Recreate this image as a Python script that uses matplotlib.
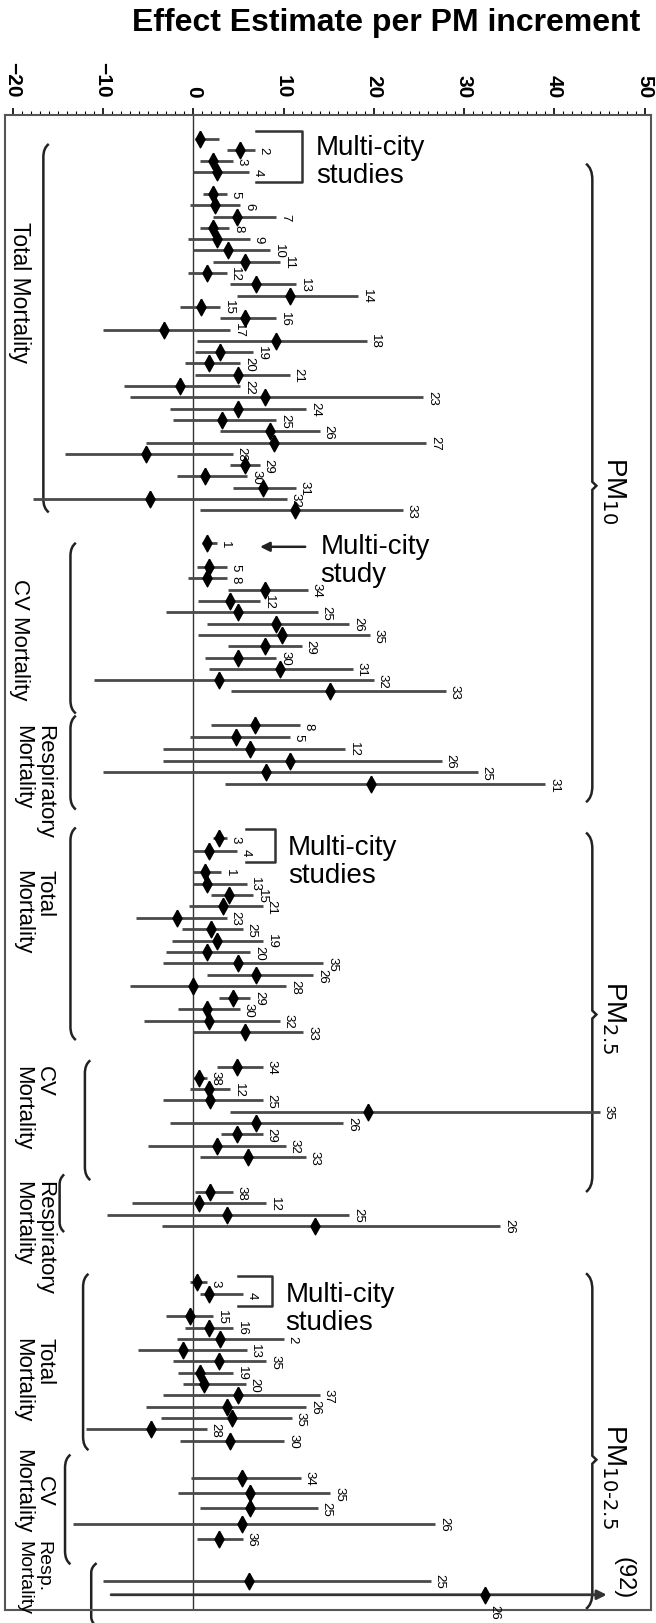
import numpy as np
import matplotlib
matplotlib.use("Agg")
import matplotlib.pyplot as plt
from matplotlib.path import Path
from matplotlib.patches import PathPatch
from matplotlib.ticker import MultipleLocator

plt.rcParams['font.family'] = ['Liberation Sans', 'DejaVu Sans']

# each row: (study label, estimate, lower CI, upper CI)
pm10_mc = [("", 0.7, 0.2, 2.8), ("2", 5.2, 3.7, 6.8), ("3", 2.2, 0.7, 4.4), ("4", 2.6, 0.0, 6.2)]
pm10_total = [
    ("5", 2.2, 1.1, 3.7), ("6", 2.4, -0.4, 5.2), ("7", 4.9, 2.2, 9.2), ("8", 2.2, 0.7, 4.0),
    ("9", 2.6, -0.6, 6.3), ("10", 3.9, 0.0, 8.5), ("11", 5.7, 2.2, 9.6), ("12", 1.5, -0.6, 3.7),
    ("13", 6.9, 4.1, 11.4), ("14", 10.7, 4.8, 18.3), ("15", 0.9, -1.5, 3.0), ("16", 5.7, 3.0, 9.2),
    ("17", -3.2, -10.0, 4.1), ("18", 9.2, 0.4, 19.2), ("19", 3.0, 0.2, 6.6), ("20", 1.7, -0.9, 5.2),
    ("21", 5.0, 0.2, 10.7), ("22", -1.5, -7.7, 5.2), ("23", 7.9, -7.0, 25.5), ("24", 5.0, -2.6, 12.5),
    ("25", 3.2, -2.2, 9.2), ("26", 8.5, 3.0, 14.0), ("27", 8.9, -5.2, 25.8), ("28", -5.2, -14.2, 4.4),
    ("29", 5.7, 4.1, 7.4), ("30", 1.3, -1.8, 6.0), ("31", 7.7, 4.4, 11.4), ("32", -4.8, -17.7, 10.4),
    ("33", 11.3, 0.7, 23.2)]
pm10_cv_mc = [("1", 1.5, 1.0, 2.6)]
pm10_cv = [
    ("5", 1.8, 0.4, 3.7), ("8", 1.5, -0.6, 3.7), ("34", 7.9, 3.9, 12.7), ("12", 4.1, 0.5, 7.4),
    ("25", 5.0, -3.0, 13.8), ("26", 9.2, 1.5, 17.3), ("35", 9.8, 0.5, 19.6), ("29", 7.9, 3.9, 12.0),
    ("30", 5.0, 1.3, 9.2), ("31", 9.6, 1.8, 17.7), ("32", 2.8, -11.0, 20.0), ("33", 15.1, 4.2, 28.0)]
pm10_resp = [("8", 6.8, 2.0, 11.8), ("5", 4.7, -0.4, 10.7), ("12", 6.3, -3.3, 16.8),
             ("26", 10.7, -3.3, 27.5), ("25", 8.1, -10.0, 31.5), ("31", 19.7, 3.5, 39.0)]

pm25_mc = [("3", 2.8, 2.2, 3.7), ("4", 1.8, 0.0, 4.8)]
pm25_total = [
    ("1", 1.3, 0.0, 3.1), ("13", 1.5, 0.0, 5.9), ("15", 4.0, 2.0, 6.6), ("21", 3.3, -0.5, 7.7),
    ("23", -1.8, -6.3, 3.7), ("25", 2.0, -1.3, 5.5), ("19", 2.6, -2.4, 7.7), ("20", 1.5, -3.0, 6.3),
    ("35", 5.0, -3.3, 14.4), ("26", 7.0, 1.5, 13.3), ("28", 0.0, -7.0, 10.3), ("29", 4.4, 2.8, 6.3),
    ("30", 1.5, -1.7, 5.2), ("32", 1.8, -5.5, 9.6), ("33", 5.7, 0.0, 12.2)]
pm25_cv = [
    ("34", 4.9, 2.6, 7.7), ("38", 0.6, 0.0, 1.5), ("12", 1.8, -0.4, 4.1), ("25", 1.9, -3.3, 7.7),
    ("35", 19.4, 4.1, 45.0), ("26", 7.0, -2.6, 16.6), ("29", 4.9, 3.1, 7.7), ("32", 2.6, -5.0, 10.3),
    ("33", 6.1, 0.7, 12.5)]
pm25_resp = [("38", 1.9, 0.2, 4.4), ("12", 0.6, -6.8, 8.1), ("25", 3.7, -9.6, 17.3), ("26", 13.5, -3.5, 34.0)]

pmc_mc = [("3", 0.4, -0.4, 1.5), ("4", 1.8, 0.7, 5.5)]
pmc_total = [
    ("15", -0.4, -3.0, 2.2), ("16", 1.8, -0.9, 4.4), ("2", 3.0, -1.8, 10.0), ("13", -1.1, -6.1, 5.9),
    ("35", 2.8, -2.2, 8.1), ("19", 0.7, -1.7, 4.4), ("20", 1.2, -1.1, 5.8), ("37", 5.0, -3.3, 14.0),
    ("26", 3.7, -5.2, 12.5), ("35", 4.3, -3.6, 10.9), ("28", -4.7, -11.9, 1.5), ("30", 4.1, -1.5, 10.1)]
pmc_cv = [("34", 5.4, -0.3, 11.9), ("35", 6.3, -1.7, 15.2), ("25", 6.3, 0.8, 13.8),
          ("26", 5.4, -13.3, 26.8), ("36", 2.8, 0.4, 5.5)]
pmc_resp = [("25", 6.2, -10.0, 26.3), ("26", 32.3, -9.1, 92.0)]

groups = [pm10_mc, pm10_total, pm10_cv_mc, pm10_cv, pm10_resp,
          pm25_mc, pm25_total, pm25_cv, pm25_resp,
          pmc_mc, pmc_total, pmc_cv, pmc_resp]

# layout: first row position and row spacing of every group (row units, top -> bottom)
row_start = [0, 4.87, 35.8, 37.9, 51.9, 61.9, 64.9, 82.1, 93.2, 101.2, 104.2, 118.5, 127.6]
row_step = [0.97, 1.0, 1.0, 1.0, 1.04, 1.15, 1.01, 1.0, 1.0, 1.05, 1.0, 1.35, 1.25]

XMIN, XMAX = -20.85, 50.7
ARROW_END = 45.8

fig = plt.figure(figsize=(6.56, 16.24), dpi=100)
ax = fig.add_axes([0.0076, 0.008, 0.9848, 0.9206])
ax.set_xlim(XMIN, XMAX)
ax.set_ylim(130.2, -2.12)

ax.axvline(0, color='#333333', lw=1.0, zorder=1)

diamond = [(0, 1), (0.55, 0), (0, -1), (-0.55, 0), (0, 1)]
line_kw = dict(color='#4a4a4a', lw=2.0, solid_capstyle='butt', zorder=2)
num_kw = dict(rotation=-90, fontsize=9.5, ha='left')

for rows, s0, st in zip(groups, row_start, row_step):
    for i, (lab, est, lo, hi) in enumerate(rows):
        u = s0 + i * st
        if hi > XMAX:
            ax.annotate('', xy=(ARROW_END, u), xytext=(lo, u),
                        arrowprops=dict(arrowstyle='-|>', color='#333333', lw=2.0,
                                        mutation_scale=14, shrinkA=0, shrinkB=0))
            ax.text(47.6, u - 1.6, f"({hi:.0f})", rotation=-90, fontsize=17,
                    ha='center', va='center')
            if lab:
                ax.text(est + 0.4, u + 0.8, lab, va='top', **num_kw)
        else:
            ax.plot([lo, hi], [u, u], **line_kw)
            if lab:
                ax.text(hi + 0.3, u, lab, va='center', **num_kw)
        ax.plot(est, u, marker=diamond, ms=12, color='black', mec='black', zorder=3)


def paren(x, u0, u1, dx, hook=0.7):
    verts = [(x + dx, u0 - 0.45), (x, u0 - 0.1), (x, u0 + hook),
             (x, u1 - hook), (x, u1 + 0.1), (x + dx, u1 + 0.45)]
    codes = [Path.MOVETO, Path.CURVE3, Path.CURVE3, Path.LINETO, Path.CURVE3, Path.CURVE3]
    ax.add_patch(PathPatch(Path(verts, codes), fill=False, lw=1.8, ec='#222222', clip_on=False))


def brace(x, u0, um, u1, dx=-0.7):
    verts = [(x + dx, u0 - 0.5), (x, u0 - 0.1), (x, u0 + 0.9),
             (x, um - 0.35), (x + 0.45, um), (x, um + 0.35),
             (x, u1 - 0.9), (x, u1 + 0.1), (x + dx, u1 + 0.5)]
    codes = [Path.MOVETO, Path.CURVE3, Path.CURVE3, Path.LINETO, Path.LINETO, Path.LINETO,
             Path.LINETO, Path.CURVE3, Path.CURVE3]
    ax.add_patch(PathPatch(Path(verts, codes), fill=False, lw=1.8, ec='#222222', clip_on=False))


def square(v0, v1, u0, u1):
    ax.plot([v0, v1, v1, v0], [u0, u0, u1, u1], color='#333333', lw=1.8,
            solid_joinstyle='round')


# outcome labels on the left
left_labels = [("Total Mortality", -19.2, 7.3, 'left', 16.5), ("CV Mortality", -19.2, 38.9, 'left', 16),
               ("Respiratory\nMortality", -17.7, 51.8, 'left', 16), ("Total\nMortality", -17.7, 64.6, 'left', 16),
               ("CV\nMortality", -17.7, 82.0, 'left', 16), ("Respiratory\nMortality", -17.7, 92.1, 'left', 16),
               ("Total\nMortality", -17.7, 106.0, 'left', 16), ("CV\nMortality", -17.7, 115.9, 'center', 16),
               ("Resp.\nMortality", -17.7, 124.0, 'left', 14)]
for txt, v, u, ma, fs in left_labels:
    ax.text(v, u, txt, rotation=-90, fontsize=fs, ha='center', va='top',
            multialignment=ma, linespacing=1.1, clip_on=False)

paren(-16.6, 0.9, 32.6, 0.6)
paren(-13.6, 36.2, 50.4, 0.6)
paren(-13.6, 51.5, 58.9, 0.6)
paren(-13.6, 61.4, 79.3, 0.6)
paren(-12.0, 82.0, 91.7, 0.6)
paren(-14.8, 92.1, 96.3, 0.5, hook=0.4)
paren(-12.2, 100.9, 115.6, 0.6)
paren(-14.2, 116.9, 125.7, 0.6)
paren(-11.3, 126.5, 131.2, 0.6, hook=0.4)

# particle size braces on the right
brace(44.2, 2.7, 30.7, 58.2)
brace(44.2, 61.9, 77.5, 92.7)
brace(44.2, 100.9, 116.9, 129.6)
ax.text(46.6, 31.0, "PM$_{10}$", rotation=-90, fontsize=20, ha='center', va='center')
ax.text(46.6, 77.7, "PM$_{2.5}$", rotation=-90, fontsize=20, ha='center', va='center')
ax.text(46.6, 118.3, "PM$_{10\u20102.5}$", rotation=-90, fontsize=20, ha='center', va='center')

# multi-city annotations
mc_kw = dict(fontsize=20, ha='left', va='top', linespacing=1.1)
ax.text(13.6, -0.4, "Multi-city\nstudies", **mc_kw)
ax.text(14.1, 34.9, "Multi-city\nstudy", **mc_kw)
ax.text(10.5, 61.5, "Multi-city\nstudies", **mc_kw)
ax.text(10.2, 101.1, "Multi-city\nstudies", **mc_kw)
square(7.0, 12.0, -0.7, 3.8)
square(5.8, 9.0, 61.1, 64.0)
square(5.0, 8.7, 100.6, 103.3)
ax.annotate('', xy=(7.4, 36.1), xytext=(12.4, 36.1),
            arrowprops=dict(arrowstyle='-|>', color='#222222', lw=1.8,
                            mutation_scale=14, shrinkA=0, shrinkB=0))

# top axis
ax.xaxis.tick_top()
ax.set_xticks(np.arange(-20, 51, 10))
ax.xaxis.set_minor_locator(MultipleLocator(1))
ax.set_xticklabels([f"{t:d}".replace('-', '\u2212') for t in range(-20, 51, 10)],
                   rotation=-90, fontsize=15, fontweight='bold')
ax.tick_params(axis='x', which='major', length=5, width=1.2, direction='out', pad=8)
ax.tick_params(axis='x', which='minor', length=3, width=0.8, direction='out')
ax.set_yticks([])
for sp in ax.spines.values():
    sp.set_linewidth(1.5)
    sp.set_color('#555555')

fig.text(0.588, 0.986, "Effect Estimate per PM increment", fontsize=23,
         fontweight='bold', ha='center', va='center')

fig.savefig("out.png", dpi=100)
